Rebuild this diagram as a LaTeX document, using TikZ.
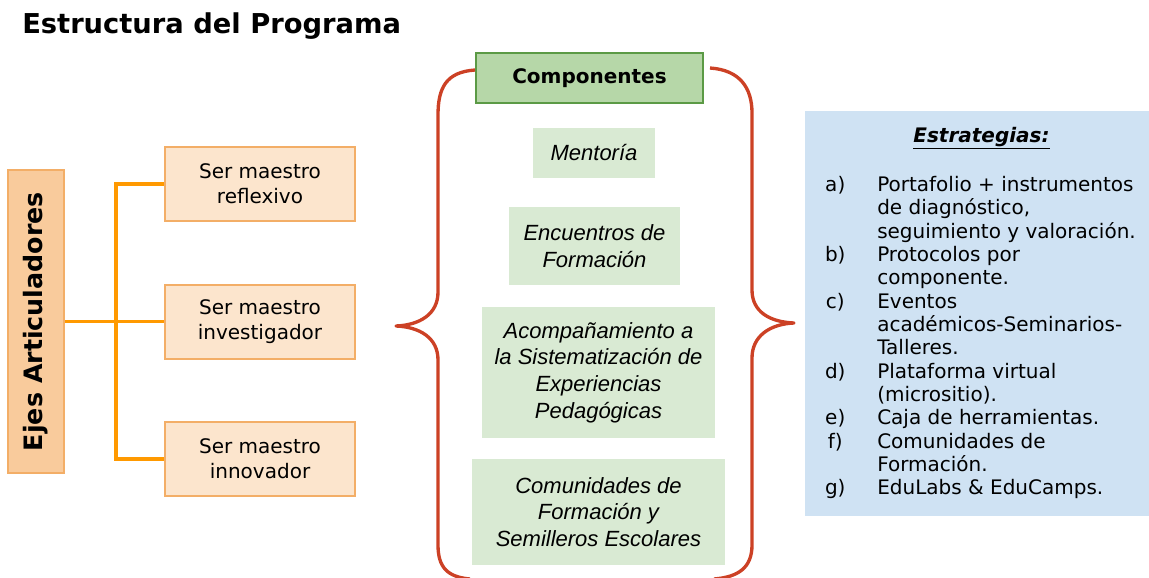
\documentclass[tikz,border=0pt]{standalone}
\usepackage{fontspec}
\usepackage{array}
\setmainfont{DejaVu Sans}
\newfontfamily\arialfont{Liberation Sans}
\definecolor{ejefill}{HTML}{F9CB9C}
\definecolor{serfill}{HTML}{FCE5CD}
\definecolor{serdraw}{HTML}{F3AE67}
\definecolor{linkorange}{HTML}{FF9900}
\definecolor{compfill}{HTML}{B6D7A8}
\definecolor{compdraw}{HTML}{5B9A45}
\definecolor{greenbox}{HTML}{D9EAD3}
\definecolor{bluebox}{HTML}{CFE2F3}
\definecolor{bracered}{HTML}{CC4125}

\begin{document}
\begin{tikzpicture}[x=0.75pt,y=-0.75pt]
    \tikzstyle{link} = [line width=2.8pt, draw=linkorange]
    \tikzstyle{brace} = [line width=2.5pt, draw=bracered, line join=round]
    \tikzstyle{ejebox} = [rectangle, fill=ejefill, draw=serdraw, line width=1.5pt, font=\fontsize{19}{22}\selectfont\bfseries]
    \tikzstyle{serbox} = [rectangle, minimum width=142.5pt, minimum height=55.5pt, fill=serfill, draw=serdraw, line width=1.5pt, align=center, font=\fontsize{15}{18.75}\selectfont]
    \tikzstyle{compbox} = [rectangle, fill=greenbox, align=center, font=\arialfont\itshape\fontsize{16.5}{20}\selectfont]
    \useasboundingbox (0,0) rectangle (1149,578);

    \node (title) [anchor=base west, inner sep=0pt, font=\fontsize{20.5}{24}\selectfont\bfseries] at (22,33) {Estructura del Programa};

    \node (ejes) [ejebox, rotate=90, minimum width=227.25pt, minimum height=42pt] at (36,321.5) {Ejes Articuladores};
    \node (reflexivo) [serbox] at (260,184) {Ser maestro\\reflexivo};
    \node (investigador) [serbox] at (260,321.5) {Ser maestro\\investigador};
    \node (innovador) [serbox] at (260,459) {Ser maestro\\innovador};
    \coordinate (split) at (116,321.5);
    \draw [link] (ejes) -- (investigador);
    \draw [link] (split) |- (reflexivo);
    \draw [link] (split) |- (innovador);

    \node (comp) [rectangle, minimum width=170.25pt, minimum height=37.5pt, fill=compfill, draw=compdraw, line width=1.5pt, font=\fontsize{15}{18}\selectfont\bfseries] at (589.5,78) {Componentes};
    \node (mentoria) [compbox, minimum width=91.5pt, minimum height=37.5pt] at (594,153) {Mentoría};
    \node (encuentros) [compbox, minimum width=128.25pt, minimum height=58.5pt] at (594.5,246) {Encuentros de\\Formación};
    \node (acomp) [compbox, minimum width=174.75pt, minimum height=98.25pt] at (598.5,372.5) {Acompañamiento a\\la Sistematización de\\Experiencias\\Pedagógicas};
    \node (comunidades) [compbox, minimum width=189.75pt, minimum height=79.5pt] at (598.5,512) {Comunidades de\\Formación y\\Semilleros Escolares};

    \draw [brace] (475,70) .. controls (446,72) and (438,88) .. (438,115) -- (438,292) .. controls (438,314) and (420,325) .. (396,326) .. controls (420,327) and (438,338) .. (438,360) -- (438,545) .. controls (438,568) and (448,577) .. (470,579);
    \draw [brace] (710,68) .. controls (740,70) and (752,88) .. (752,113) -- (752,290) .. controls (752,312) and (770,322) .. (794,323) .. controls (770,324) and (752,336) .. (752,358) -- (752,545) .. controls (752,568) and (738,577) .. (714,579);

    \node (estr) [rectangle, fill=bluebox, minimum width=258pt, minimum height=303.75pt] at (977,313.5) {};
    \node (estr-title) [anchor=base, inner sep=0pt, font=\fontsize{15}{18}\selectfont\bfseries\itshape] at (981.5,142) {\underline{Estrategias:}};
    \node (estr-list) [anchor=north west, inner sep=0pt, font=\fontsize{15}{17.5}\selectfont] at (818,175) {%
        \begin{tabular}{@{}>{\centering\arraybackslash}p{25.5pt}@{\hspace{18.75pt}}l@{}}
        a) & Portafolio + instrumentos\\
           & de diagnóstico,\\
           & seguimiento y valoración.\\
        b) & Protocolos por\\
           & componente.\\
        c) & Eventos\\
           & académicos-Seminarios-\\
           & Talleres.\\
        d) & Plataforma virtual\\
           & (micrositio).\\
        e) & Caja de herramientas.\\
        f) & Comunidades de\\
           & Formación.\\
        g) & EduLabs \& EduCamps.
        \end{tabular}};
\end{tikzpicture}
\end{document}
